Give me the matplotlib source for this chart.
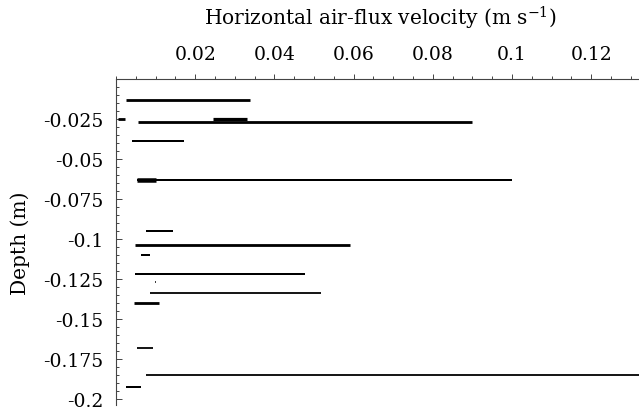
import matplotlib
matplotlib.use("Agg")
import matplotlib.pyplot as plt
from matplotlib.ticker import FixedLocator, MultipleLocator

# segments: depth (m), start and end velocity (m/s)
depth = [-0.0131, -0.0250, -0.0247, -0.0267, -0.0385, -0.0633, -0.0633,
         -0.0950, -0.1036, -0.1097, -0.1217, -0.1267, -0.1337, -0.1397,
         -0.1680, -0.1852, -0.1926]
v_start = [0.0025, 0.0004, 0.0245, 0.0056, 0.0040, 0.0052, 0.0052,
           0.0076, 0.0048, 0.0062, 0.0048, 0.0098, 0.0087, 0.0045,
           0.0053, 0.0076, 0.0026]
v_end = [0.0338, 0.0023, 0.0330, 0.0900, 0.0172, 0.0100, 0.1000,
         0.0143, 0.0590, 0.0086, 0.0477, 0.0102, 0.0517, 0.0108,
         0.0094, 0.1400, 0.0062]

xticks = [0.02, 0.04, 0.06, 0.08, 0.1, 0.12]
xticklabels = ["0.02", "0.04", "0.06", "0.08", "0.1", "0.12"]
yticks = [-0.025, -0.05, -0.075, -0.1, -0.125, -0.15, -0.175, -0.2]
yticklabels = ["-0.025", "-0.05", "-0.075", "-0.1", "-0.125", "-0.15", "-0.175", "-0.2"]

# line weights per segment, in pixels
lw_px = [2.8, 2.8, 3.2, 2.8, 2.0, 4.5, 2.0,
         2.0, 2.8, 2.0, 2.0, 1.5, 1.8, 2.8,
         1.8, 1.8, 2.0]

plt.rcParams['font.family'] = ['DejaVu Serif']
plt.rcParams['mathtext.fontset'] = 'dejavuserif'

W, H = 639, 414
fig = plt.figure(figsize=(W / 100, H / 100), dpi=100)
x0, ytop, ybot = 116, 80, 406.4
ax = fig.add_axes([x0 / W, 1 - ybot / H, (W - x0) / W, (ybot - ytop) / H])

ax.hlines(depth, v_start, v_end, colors='black',
          linewidths=[w * 0.72 for w in lw_px], capstyle='butt')

ax.set_xlim(0, (W - x0) / 3960)
ax.set_ylim(-0.204, 0)

for s in ['right', 'bottom']:
    ax.spines[s].set_visible(False)
for s in ['left', 'top']:
    ax.spines[s].set_color('#444444')
    ax.spines[s].set_linewidth(0.8)

ax.xaxis.tick_top()
ax.xaxis.set_major_locator(FixedLocator(xticks))
ax.set_xticklabels(xticklabels)
ax.xaxis.set_minor_locator(MultipleLocator(0.005))
ax.yaxis.set_major_locator(FixedLocator(yticks))
ax.set_yticklabels(yticklabels)
ax.yaxis.set_minor_locator(MultipleLocator(0.005))

ax.tick_params(axis='x', which='both', direction='out', color='#444444',
               width=0.7, labelsize=13.5, pad=8)
ax.tick_params(axis='x', which='major', length=3.5)
ax.tick_params(axis='x', which='minor', length=2)
ax.tick_params(axis='y', which='both', direction='in', color='#444444',
               width=0.7, labelsize=13.5, pad=9)
ax.tick_params(axis='y', which='major', length=4)
ax.tick_params(axis='y', which='minor', length=2)

fig.text(380 / W, 1 - 18 / H, r'Horizontal air-flux velocity (m s$^{-1}$)',
         ha='center', va='center', fontsize=14.5)
fig.text(20 / W, 1 - 243 / H, 'Depth (m)', rotation=90,
         ha='center', va='center', fontsize=14.5)

fig.savefig('out.png', dpi=100)
